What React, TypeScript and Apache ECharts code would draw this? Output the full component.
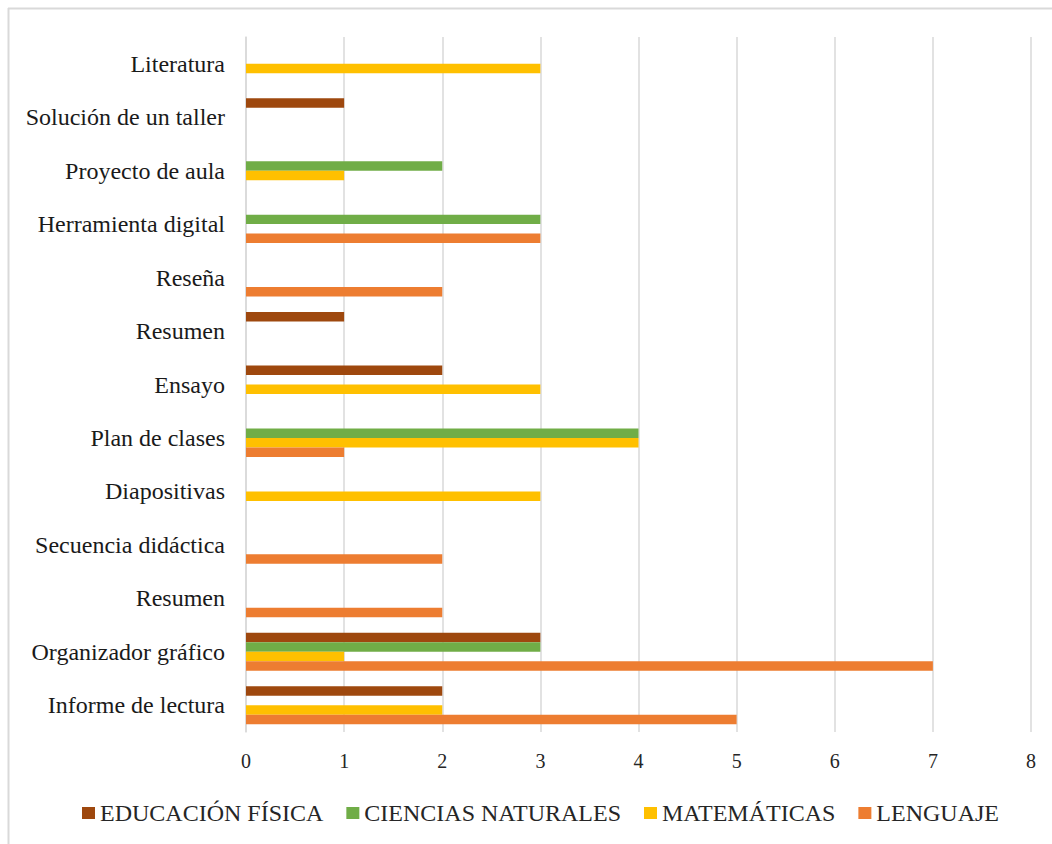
import React, { useEffect, useRef } from "react";
import * as echarts from "echarts";

// Categories listed bottom-to-top along the vertical axis
const categories = [
  "Informe de lectura",
  "Organizador gráfico",
  "Resumen",
  "Secuencia didáctica",
  "Diapositivas",
  "Plan de clases",
  "Ensayo",
  "Resumen",
  "Reseña",
  "Herramienta digital",
  "Proyecto de aula",
  "Solución de un taller",
  "Literatura",
];

const educacionFisica = [2, 3, 0, 0, 0, 0, 2, 1, 0, 0, 0, 1, 0];
const cienciasNaturales = [0, 3, 0, 0, 0, 4, 0, 0, 0, 3, 2, 0, 0];
const matematicas = [2, 1, 0, 0, 3, 4, 3, 0, 0, 0, 1, 0, 3];
const lenguaje = [5, 7, 2, 2, 0, 1, 0, 0, 2, 3, 0, 0, 0];

const xTicks = [0, 1, 2, 3, 4, 5, 6, 7, 8];

const seriesNames = ["EDUCACIÓN FÍSICA", "CIENCIAS NATURALES", "MATEMÁTICAS", "LENGUAJE"];
const seriesColors = ["#9E480E", "#70AD47", "#FFC000", "#ED7D31"];
const seriesValues = [educacionFisica, cienciasNaturales, matematicas, lenguaje];

const FONT = "Liberation Serif";

export default function App() {
  const ref = useRef<HTMLDivElement>(null);

  useEffect(() => {
    if (!ref.current) return;
    const chart = echarts.init(ref.current, undefined, { renderer: "svg" });
    chart.setOption({
      animation: false,
      backgroundColor: "#ffffff",
      textStyle: { fontFamily: FONT },
      graphic: [
        {
          type: "line",
          shape: { x1: 8, y1: 8.5, x2: 1052, y2: 8.5 },
          style: { stroke: "#D9D9D9", lineWidth: 2 },
        },
        {
          type: "line",
          shape: { x1: 8.5, y1: 8, x2: 8.5, y2: 844 },
          style: { stroke: "#D9D9D9", lineWidth: 2 },
        },
      ],
      grid: { left: 246, right: 21, top: 37, bottom: 112, containLabel: false },
      legend: {
        left: 77,
        top: 796,
        itemWidth: 13,
        itemHeight: 12,
        itemGap: 23,
        icon: "rect",
        data: seriesNames,
        textStyle: { fontFamily: FONT, fontSize: 24, color: "#262626" },
      },
      xAxis: {
        type: "value",
        min: xTicks[0],
        max: xTicks[xTicks.length - 1],
        interval: 1,
        axisLine: { show: false },
        axisTick: { show: false },
        splitLine: { show: true, lineStyle: { color: "#D9D9D9", width: 1.5 } },
        axisLabel: { fontFamily: FONT, fontSize: 20, color: "#262626", margin: 19 },
      },
      yAxis: {
        type: "category",
        data: categories,
        axisLine: { show: true, lineStyle: { color: "#D9D9D9", width: 1.5 } },
        axisTick: { show: false },
        axisLabel: {
          fontFamily: FONT,
          fontSize: 24,
          color: "#1a1a1a",
          margin: 21,
        },
      },
      series: seriesNames.map((name, i) => ({
        name,
        type: "bar",
        data: seriesValues[i],
        barGap: "0%",
        barCategoryGap: "29%",
        itemStyle: { color: seriesColors[i] },
      })),
    });
    return () => chart.dispose();
  }, []);

  return (
    <div
      ref={ref}
      style={{ position: "absolute", left: 0, top: 0, width: 1052, height: 844 }}
    />
  );
}
